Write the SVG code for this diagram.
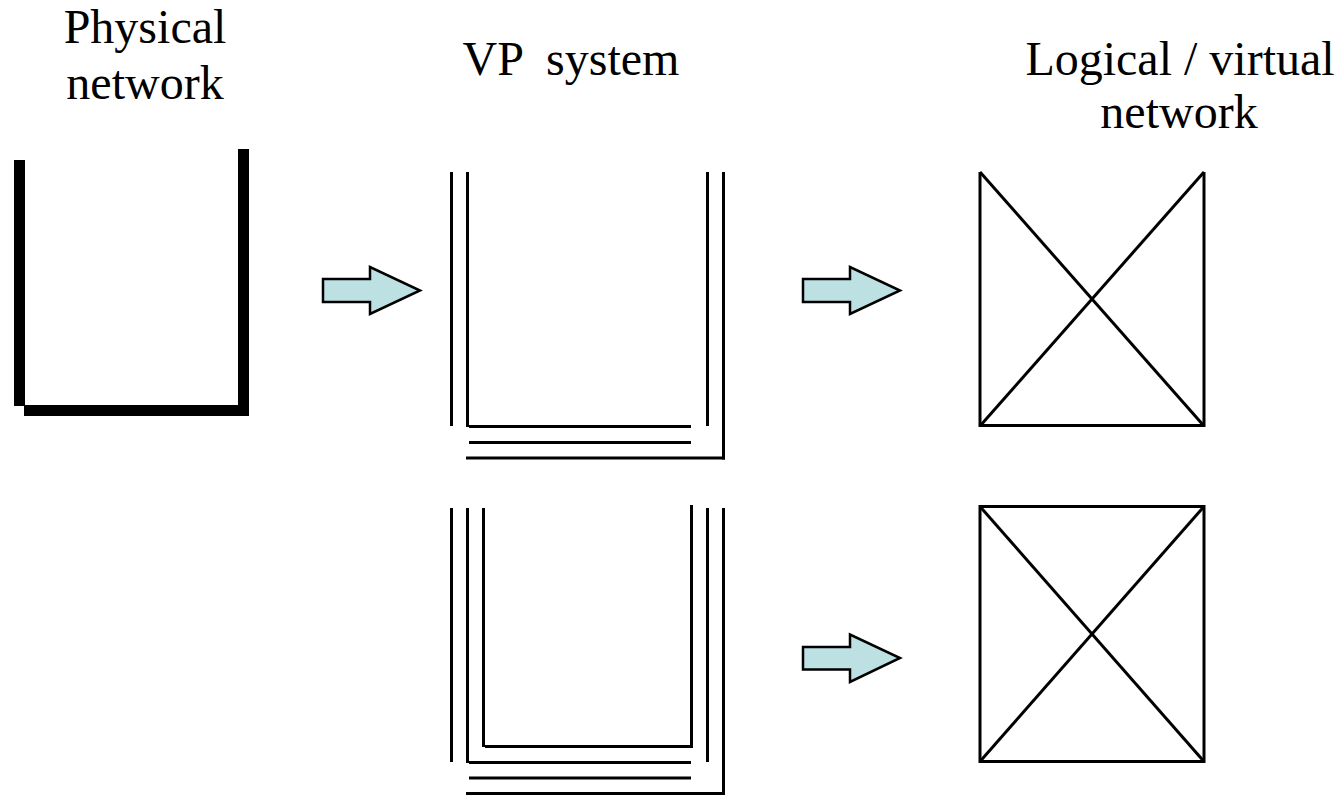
<svg xmlns="http://www.w3.org/2000/svg" width="1344" height="795" viewBox="0 0 1344 795">
<style>
.t{font-family:"Liberation Serif","Times New Roman",serif;font-size:48px;fill:#000;text-anchor:middle}
.ln{stroke:#000;stroke-width:3;fill:none}
.xb{stroke:#000;stroke-width:3;fill:none}
.dg{stroke:#000;stroke-width:3;fill:none}
.ar{fill:#BDE0E3;stroke:#000;stroke-width:2.5;stroke-linejoin:miter}
</style>
<rect width="1344" height="795" fill="#fff"/>
<g id="labels">
<text class="t" x="145" y="43">Physical</text>
<text class="t" x="145" y="99">network</text>
<text class="t" x="571" y="75" xml:space="preserve">VP  system</text>
<text class="t" x="1180" y="75">Logical / virtual</text>
<text class="t" x="1179" y="128">network</text>
</g>
<g id="physical-network">
<rect x="14" y="160" width="11" height="246" fill="#000"/>
<rect x="238" y="149" width="11" height="267" fill="#000"/>
<rect x="24" y="405" width="225" height="11" fill="#000"/>
</g>
<g id="vp-system-1">
<line class="ln" x1="451.5" y1="172" x2="451.5" y2="426"/>
<line class="ln" x1="467.5" y1="172" x2="467.5" y2="427"/>
<line class="ln" x1="469" y1="426.5" x2="691" y2="426.5"/>
<line class="ln" x1="469" y1="442.5" x2="691" y2="442.5"/>
<line class="ln" x1="466" y1="458" x2="725" y2="458"/>
<line class="ln" x1="707.5" y1="172" x2="707.5" y2="426"/>
<line class="ln" x1="723.5" y1="172" x2="723.5" y2="459.5"/>
</g>
<g id="vp-system-2">
<line class="ln" x1="451.5" y1="508" x2="451.5" y2="762"/>
<line class="ln" x1="467.5" y1="508" x2="467.5" y2="763"/>
<line class="ln" x1="483.5" y1="508" x2="483.5" y2="747"/>
<line class="ln" x1="485" y1="746.5" x2="693" y2="746.5"/>
<line class="ln" x1="691.5" y1="505" x2="691.5" y2="748"/>
<line class="ln" x1="469" y1="762.5" x2="691" y2="762.5"/>
<line class="ln" x1="469" y1="778" x2="691" y2="778"/>
<line class="ln" x1="466" y1="793.5" x2="725" y2="793.5"/>
<line class="ln" x1="707.5" y1="508" x2="707.5" y2="762"/>
<line class="ln" x1="723.5" y1="508" x2="723.5" y2="795"/>
</g>
<g id="logical-network-1">
<line class="xb" x1="980" y1="172" x2="980" y2="427"/>
<line class="xb" x1="1204" y1="172" x2="1204" y2="427"/>
<line class="xb" x1="980" y1="425.5" x2="1204" y2="425.5"/>
<line class="dg" x1="980" y1="172" x2="1204" y2="426"/>
<line class="dg" x1="1204" y1="172" x2="980" y2="426"/>
</g>
<g id="logical-network-2">
<rect class="xb" x="980" y="506.5" width="224" height="255"/>
<line class="dg" x1="980" y1="506.5" x2="1204" y2="761.5"/>
<line class="dg" x1="1204" y1="506.5" x2="980" y2="761.5"/>
</g>
<g id="connectors">
<polygon class="ar" points="323,279 370,279 370,267 420,290.5 370,314 370,302 323,302"/>
<polygon class="ar" points="803,279 850,279 850,267 900,290.5 850,314 850,302 803,302"/>
<polygon class="ar" points="803,647 850,647 850,634.5 900,658 850,682 850,669.5 803,669.5"/>
</g>
</svg>
